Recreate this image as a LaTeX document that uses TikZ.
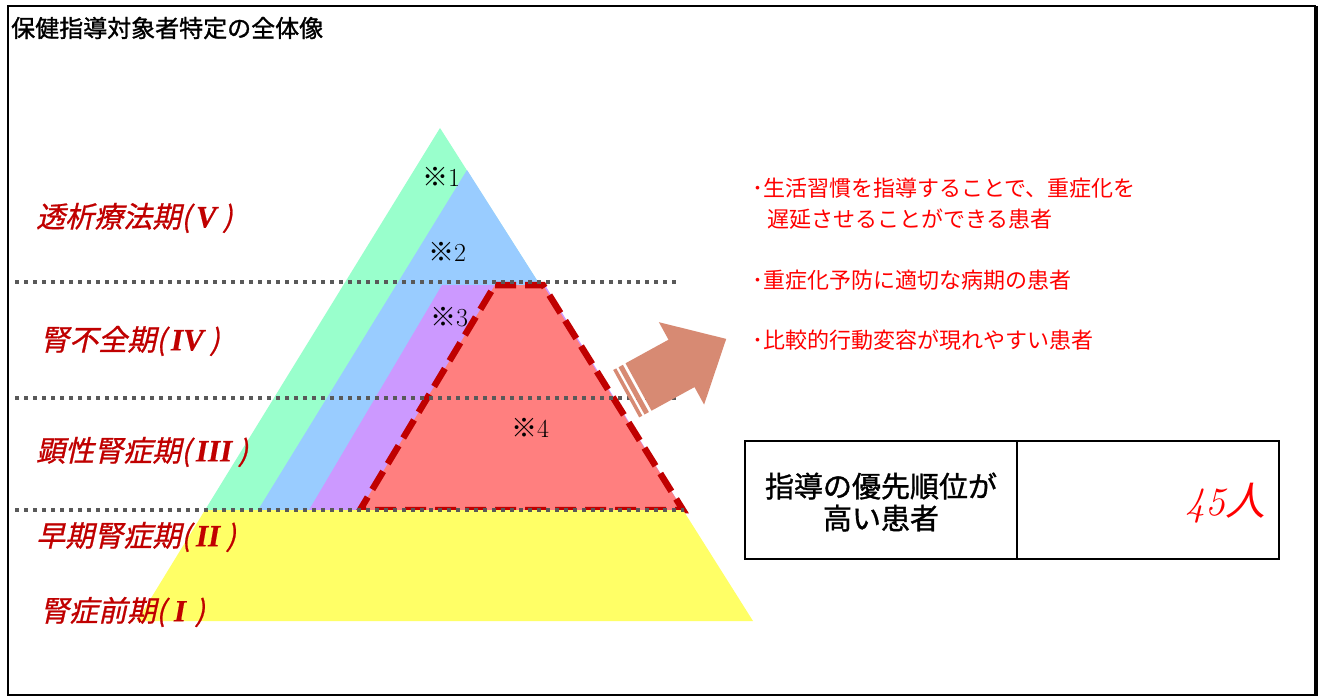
\documentclass[tikz,border=0pt]{standalone}
\usepackage{fontspec}
\newfontfamily\jp{Noto Sans CJK JP}
\newfontfamily\jpb{Noto Sans CJK JP}[FakeBold=1.2]
\newfontfamily\jpit{Noto Sans CJK JP}[FakeSlant=0.22,FakeBold=0.8]
\newfontfamily\jpsl{Noto Sans CJK JP}[FakeSlant=0.22]
\newfontfamily\romanit{Liberation Serif}[FakeBold=0.5]
\definecolor{cgreen}{HTML}{99FFCC}
\definecolor{cblue}{HTML}{99CCFF}
\definecolor{cpurple}{HTML}{CC99FF}
\definecolor{cred}{HTML}{FF7F7F}
\definecolor{cyellow}{HTML}{FFFF66}
\definecolor{dred}{HTML}{C00000}
\definecolor{carrow}{RGB}{215,138,115}
\definecolor{cdot}{HTML}{595959}
\newcommand{\rn}[1]{\kern5pt{\romanit\bfseries\itshape\fontsize{31}{34}\selectfont #1}\kern6pt}
\tikzset{
  stagelabel/.style={anchor=west,inner sep=0pt,text=dred,font=\jpit\fontsize{29}{34}\selectfont},
  notelabel/.style={inner sep=0pt,font=\fontsize{26}{30}\selectfont},
  sidetext/.style={anchor=west,inner sep=0pt,text=red,font=\jp\fontsize{22}{26}\selectfont},
  dotline/.style={cdot,line width=3.6pt,dash pattern=on 4pt off 5pt},
  reddash/.style={dred,line width=6.5pt,dash pattern=on 21pt off 9pt,line join=miter}
}
\begin{document}
\begin{tikzpicture}[x=1pt,y=-1pt]
\useasboundingbox (0,0) rectangle (1322,698);
\fill[white] (0,0) rectangle (1322,698);
% frame
\draw[line width=2pt] (8,6) rectangle (1315,695);
\draw[line width=2pt] (1317,6) -- (1317,696);
% title
\node[anchor=west,inner sep=0pt,font=\jpb\fontsize{24}{28}\selectfont] (title) at (11,28) {保健指導対象者特定の全体像};
% pyramid
\fill[cgreen] (440,128) -- (683,510) -- (205,510) -- cycle;
\fill[cblue] (467,170) -- (683,510) -- (258,510) -- cycle;
\fill[cpurple] (442,285) -- (545,285) -- (683,510) -- (309,510) -- cycle;
\fill[cred] (495,285) -- (543,285) -- (683,510) -- (360,510) -- cycle;
\draw[reddash] (495,285) -- (543,285) -- (683,510) -- (360,510) -- cycle;
\fill[cyellow] (205,510) -- (683,510) -- (753,621) -- (137,621) -- cycle;
% dotted lines
\draw[dotline] (15,282) -- (680,282);
\draw[dotline] (15,398) -- (680,398);
\draw[dotline] (15,510) -- (684,510);
% notes
\node[notelabel] (n1) at (441,177) {{\jp ※}1};
\node[notelabel] (n2) at (447,252) {{\jp ※}2};
\node[notelabel] (n3) at (449,317) {{\jp ※}3};
\node[notelabel] (n4) at (530,428) {{\jp ※}4};
% stage labels
\node[stagelabel] (s5) at (36,218) {透析療法期(\rn{V})};
\node[stagelabel] (s4) at (40,341) {腎不全期(\rn{IV})};
\node[stagelabel] (s3) at (36,452) {顕性腎症期(\rn{III})};
\node[stagelabel] (s2) at (36,537) {早期腎症期(\rn{II})};
\node[stagelabel] (s1) at (40,612) {腎症前期(\kern3pt\rn{I}\kern3pt)};
% arrow
\fill[carrow] (625.5,363.3) -- (668.5,339.7) -- (658.9,322.2) -- (726.2,338.9) -- (704.1,404.6) -- (694.5,387.1) -- (651.5,410.7) -- cycle;
\fill[carrow] (622.9,364.8) -- (618.5,367.2) -- (644.5,414.5) -- (648.9,412.1) -- cycle;
\fill[carrow] (616.3,368.4) -- (613.2,370.0) -- (639.2,417.4) -- (642.3,415.7) -- cycle;
% side texts
\node[sidetext] (t1a) at (752,188) {･生活習慣を指導することで、重症化を};
\node[sidetext] (t1b) at (767,219) {遅延させることができる患者};
\node[sidetext] (t2) at (752,280) {･重症化予防に適切な病期の患者};
\node[sidetext] (t3) at (752,340) {･比較的行動変容が現れやすい患者};
% table
\draw[line width=2.5pt] (745,441) rectangle (1279,559);
\draw[line width=2.5pt] (1017,441) -- (1017,559);
\node[align=center,inner sep=0pt,font=\jpb\fontsize{29}{32}\selectfont] (tl) at (881,502) {指導の優先順位が\\高い患者};
\node[anchor=east,inner sep=0pt,text=red,font=\fontsize{40}{44}\selectfont] (tr) at (1266,503) {\itshape 45{\jpsl 人}};
\end{tikzpicture}
\end{document}
